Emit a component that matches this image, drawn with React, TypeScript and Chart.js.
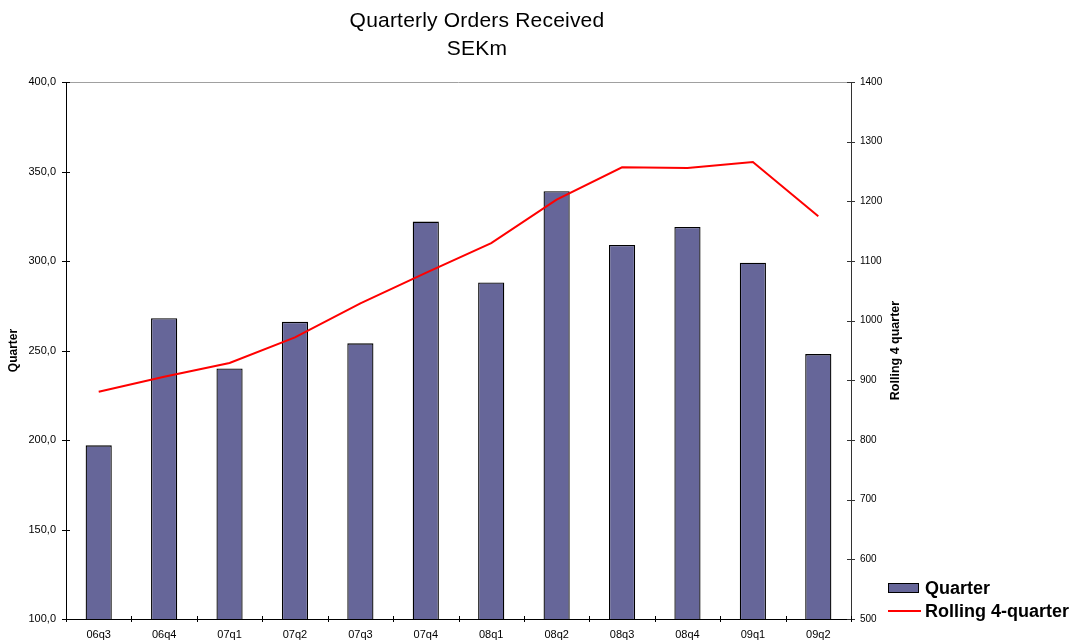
import React, { useEffect, useRef } from "react";
import { Chart, registerables } from "chart.js";

Chart.register(...registerables);

const chartTitle = ["Quarterly Orders Received", "SEKm"];
const categories = ["06q3", "06q4", "07q1", "07q2", "07q3", "07q4", "08q1", "08q2", "08q3", "08q4", "09q1", "09q2"];
const quarterValues = [197, 268, 240, 266, 254, 322, 288, 339, 309, 319, 299, 248];
const rollingValues = [881, 906, 929, 972, 1029, 1080, 1130, 1203, 1257, 1256, 1266, 1175];
const leftAxisRange = [100, 400];
const leftAxisStep = 50;
const rightAxisRange = [500, 1400];
const rightAxisStep = 100;
const seriesNames = ["Quarter", "Rolling 4-quarter"];
const leftAxisTitle = "Quarter";
const rightAxisTitle = "Rolling 4 quarter";

const FONT = '"Liberation Sans", Arial, Helvetica, sans-serif';
const BAR_COLOR = "#666699";
const LINE_COLOR = "#ff0000";

const decorPlugin = {
  id: "decor",
  afterDraw(chart: any) {
    const { ctx, chartArea: a, scales } = chart;
    const xs = scales.x;
    const yl = scales.y;
    const yr = scales.y1;
    ctx.save();
    const seg = (x1: number, y1: number, x2: number, y2: number) => {
      ctx.beginPath();
      ctx.moveTo(x1, y1);
      ctx.lineTo(x2, y2);
      ctx.stroke();
    };
    ctx.lineWidth = 1;
    // top frame line
    ctx.strokeStyle = "#a0a0a0";
    seg(a.left, Math.round(a.top) + 0.5, a.right, Math.round(a.top) + 0.5);
    // left ticks
    ctx.strokeStyle = "#000";
    yl.ticks.forEach((t: any) => {
      const py = Math.round(yl.getPixelForValue(t.value)) + 0.5;
      seg(a.left - 4, py, a.left + 4, py);
    });
    // right ticks
    ctx.strokeStyle = "#333";
    yr.ticks.forEach((t: any) => {
      const py = Math.round(yr.getPixelForValue(t.value)) + 0.5;
      seg(a.right - 4, py, a.right + 4, py);
    });
    // x ticks at category boundaries
    ctx.strokeStyle = "#000";
    for (let i = 0; i <= categories.length; i++) {
      const px = Math.round(xs.getPixelForValue(i - 0.5)) + 0.5;
      seg(px, a.bottom - 3, px, a.bottom + 3);
    }
    // axis titles
    ctx.fillStyle = "#000";
    ctx.textAlign = "center";
    ctx.textBaseline = "middle";
    const mid = (a.top + a.bottom) / 2;
    ctx.save();
    ctx.font = `bold 12px ${FONT}`;
    ctx.translate(14, mid);
    ctx.rotate(-Math.PI / 2);
    ctx.fillText(leftAxisTitle, 0, 0);
    ctx.restore();
    ctx.save();
    ctx.font = `bold 12.5px ${FONT}`;
    ctx.translate(a.right + 45, mid);
    ctx.rotate(-Math.PI / 2);
    ctx.fillText(rightAxisTitle, 0, 0);
    ctx.restore();
    ctx.restore();
  },
};

export default function App() {
  const canvasRef = useRef<HTMLCanvasElement | null>(null);

  useEffect(() => {
    if (!canvasRef.current) return;
    Chart.defaults.font.family = FONT;
    Chart.defaults.color = "#000";
    const chart = new Chart(canvasRef.current, {
      type: "bar",
      data: {
        labels: categories,
        datasets: [
          {
            type: "line",
            label: seriesNames[1],
            data: rollingValues,
            yAxisID: "y1",
            borderColor: LINE_COLOR,
            backgroundColor: LINE_COLOR,
            borderWidth: 2,
            pointRadius: 0,
            tension: 0,
            order: 0,
          } as any,
          {
            type: "bar",
            label: seriesNames[0],
            data: quarterValues,
            yAxisID: "y",
            backgroundColor: BAR_COLOR,
            borderColor: "#000",
            borderWidth: 1.3,
            borderSkipped: false,
            barPercentage: 0.4,
            categoryPercentage: 1,
            order: 1,
          } as any,
        ],
      },
      options: {
        animation: false,
        responsive: true,
        maintainAspectRatio: false,
        layout: { padding: { top: 82, left: 0, right: 0, bottom: 0 } },
        plugins: {
          legend: { display: false },
          title: { display: false },
          tooltip: { enabled: false },
        },
        scales: {
          x: {
            grid: { display: false, drawTicks: false, offset: true },
            border: { display: true, color: "#000", width: 1 },
            ticks: { padding: 9, font: { size: 11 }, color: "#000", maxRotation: 0 },
            afterFit: (s: any) => {
              s.height = 22;
            },
          },
          y: {
            position: "left",
            min: leftAxisRange[0],
            max: leftAxisRange[1],
            grid: { display: false, drawTicks: false },
            border: { display: true, color: "#000", width: 1 },
            ticks: {
              stepSize: leftAxisStep,
              padding: 10,
              font: { size: 11 },
              color: "#000",
              callback: (v: any) => Number(v).toFixed(1).replace(".", ","),
            },
            afterFit: (s: any) => {
              s.width = 66;
            },
          },
          y1: {
            position: "right",
            min: rightAxisRange[0],
            max: rightAxisRange[1],
            grid: { display: false, drawTicks: false },
            border: { display: true, color: "#333", width: 1 },
            ticks: {
              stepSize: rightAxisStep,
              padding: 9,
              font: { size: 10 },
              color: "#000",
              callback: (v: any) => String(v),
            },
            afterFit: (s: any) => {
              s.width = 219;
            },
          },
        },
      } as any,
      plugins: [decorPlugin],
    });
    return () => chart.destroy();
  }, []);

  return (
    <div style={{ position: "fixed", left: 0, top: 0, width: 1070, height: 641, background: "#fff", overflow: "hidden" }}>
      <canvas ref={canvasRef} />
      <div
        style={{
          position: "absolute",
          left: 0,
          top: 6,
          width: 954,
          textAlign: "center",
          fontFamily: FONT,
          fontSize: 21,
          letterSpacing: "0.2px",
          lineHeight: "28px",
          color: "#000",
        }}
      >
        {chartTitle.map((t) => (
          <div key={t}>{t}</div>
        ))}
      </div>
      <div style={{ position: "absolute", left: 888, top: 578, height: 20, display: "flex", alignItems: "center", fontFamily: FONT, fontWeight: "bold", fontSize: 18, color: "#000", whiteSpace: "nowrap" }}>
        <div style={{ width: 31, height: 10, boxSizing: "border-box", background: BAR_COLOR, border: "1px solid #000", marginRight: 6 }} />
        <span>{seriesNames[0]}</span>
      </div>
      <div style={{ position: "absolute", left: 888, top: 601, height: 20, display: "flex", alignItems: "center", fontFamily: FONT, fontWeight: "bold", fontSize: 18, color: "#000", whiteSpace: "nowrap" }}>
        <div style={{ width: 33, height: 2, background: LINE_COLOR, marginRight: 4 }} />
        <span>{seriesNames[1]}</span>
      </div>
    </div>
  );
}
